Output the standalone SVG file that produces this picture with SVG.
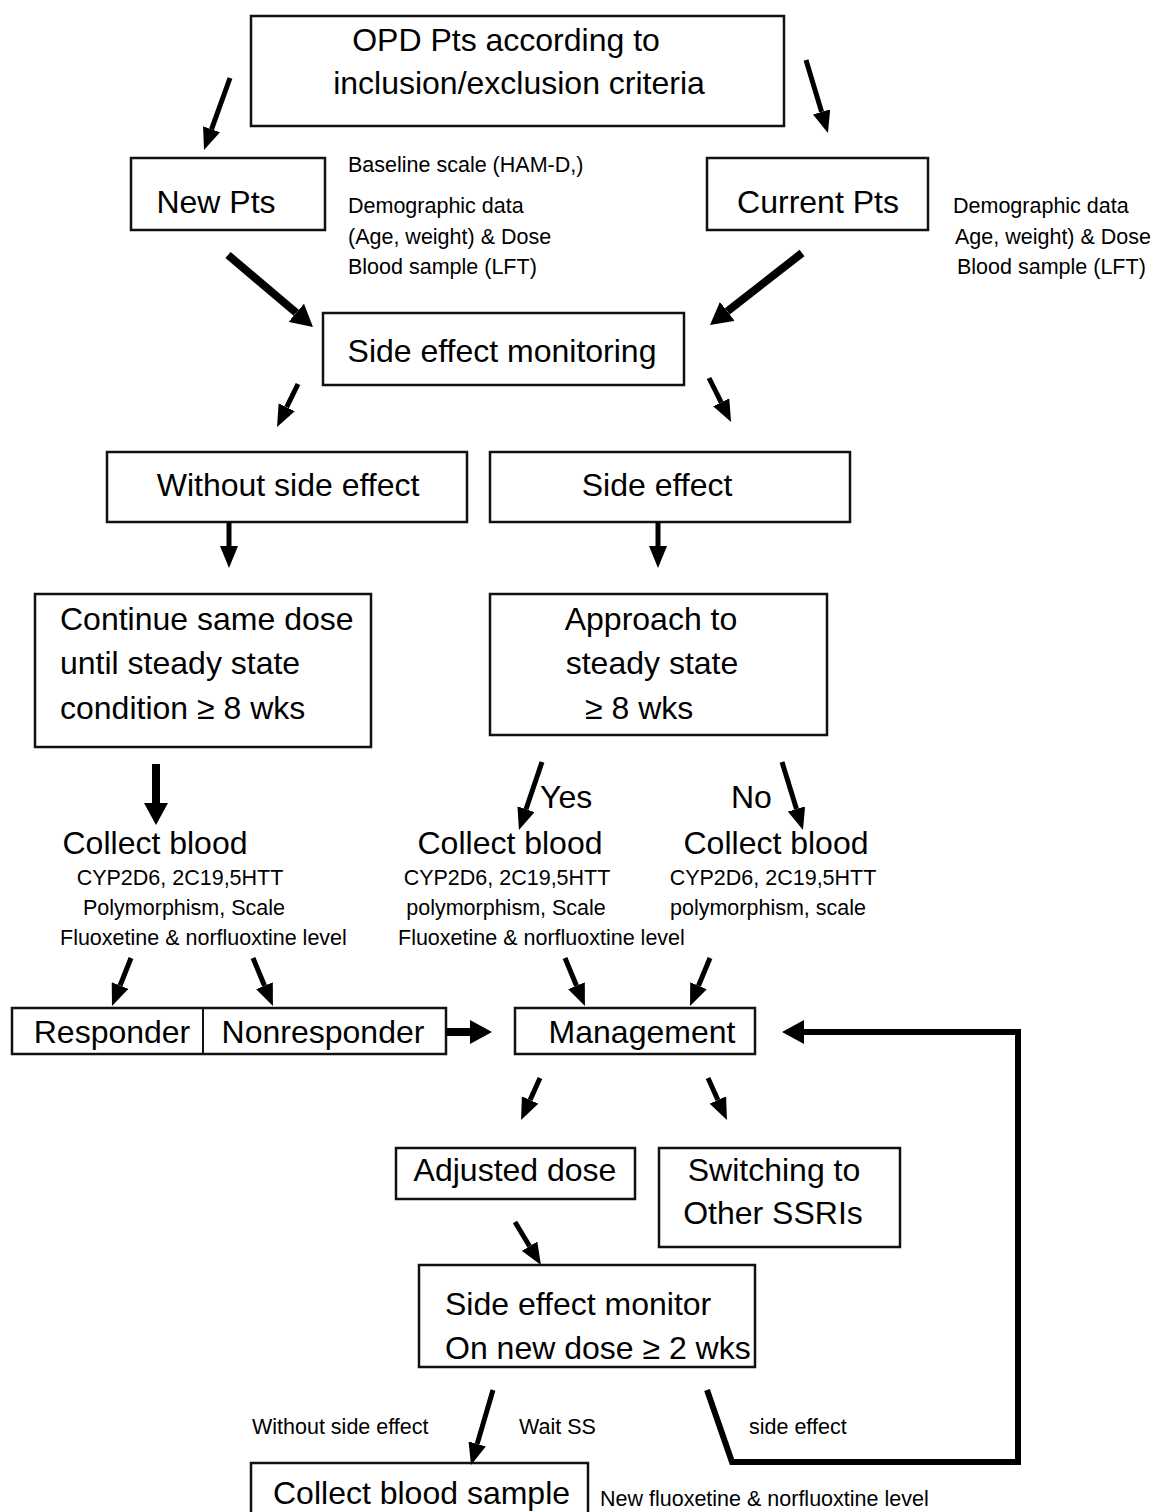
<svg xmlns="http://www.w3.org/2000/svg" width="1163" height="1512" viewBox="0 0 1163 1512">
<defs>
<style>
.box{fill:#fff;stroke:#111;stroke-width:2.5}
.t{font-family:"Liberation Sans",Arial,sans-serif;font-size:32px;fill:#000}
.s{font-family:"Liberation Sans",Arial,sans-serif;font-size:21.5px;fill:#000}
.m{text-anchor:middle}
.a{fill:none;stroke:#000;stroke-width:5;marker-end:url(#ah)}
.ab{fill:none;stroke:#000;stroke-width:8;marker-end:url(#ahb)}
</style>
<marker id="ah" viewBox="0 0 22 18" refX="0" refY="9" markerWidth="22" markerHeight="18" markerUnits="userSpaceOnUse" orient="auto"><path d="M0,0 L22,9 L0,18 z" fill="#000"/></marker>
<marker id="ahb" viewBox="0 0 22 24" refX="0" refY="12" markerWidth="22" markerHeight="24" markerUnits="userSpaceOnUse" orient="auto"><path d="M0,0 L22,12 L0,24 z" fill="#000"/></marker>
</defs>
<rect width="1163" height="1512" fill="#fff"/>

<g id="n-opd"><rect class="box" x="251" y="16" width="533" height="110"/><text class="t m" x="506" y="51">OPD Pts according to</text><text class="t m" x="519" y="94">inclusion/exclusion criteria</text></g>
<g id="n-new"><rect class="box" x="131" y="158" width="194" height="72"/><text class="t m" x="216" y="213">New Pts</text></g>
<g id="n-new-notes"><text class="s" x="348" y="172">Baseline scale (HAM-D,)</text><text class="s" x="348" y="213">Demographic data</text><text class="s" x="348" y="244">(Age, weight) &amp; Dose</text><text class="s" x="348" y="274">Blood sample (LFT)</text></g>
<g id="n-current"><rect class="box" x="707" y="158" width="221" height="72"/><text class="t m" x="818" y="213">Current Pts</text></g>
<g id="n-current-notes"><text class="s" x="953" y="213">Demographic data</text><text class="s" x="955" y="244">Age, weight) &amp; Dose</text><text class="s" x="957" y="274">Blood sample (LFT)</text></g>
<g id="n-sem"><rect class="box" x="323" y="313" width="361" height="72"/><text class="t m" x="502" y="362">Side effect monitoring</text></g>
<g id="n-wse"><rect class="box" x="107" y="452" width="360" height="70"/><text class="t m" x="288" y="496">Without side effect</text></g>
<g id="n-se"><rect class="box" x="490" y="452" width="360" height="70"/><text class="t m" x="657" y="496">Side effect</text></g>
<g id="n-continue"><rect class="box" x="35" y="594" width="336" height="153"/><text class="t" x="60" y="630">Continue same dose</text><text class="t" x="60" y="674">until steady state</text><text class="t" x="60" y="719">condition ≥ 8 wks</text></g>
<g id="n-approach"><rect class="box" x="490" y="594" width="337" height="141"/><text class="t m" x="651" y="630">Approach to</text><text class="t m" x="652" y="674">steady state</text><text class="t" x="585" y="719">≥ 8 wks</text></g>

<g id="n-cb1"><text class="t m" x="155" y="854">Collect blood</text><text class="s m" x="180" y="885">CYP2D6, 2C19,5HTT</text><text class="s m" x="184" y="915">Polymorphism, Scale</text><text class="s" x="60" y="945">Fluoxetine &amp; norfluoxtine level</text></g>
<g id="n-cb2"><text class="t m" x="510" y="854">Collect blood</text><text class="s m" x="507" y="885">CYP2D6, 2C19,5HTT</text><text class="s m" x="506" y="915">polymorphism, Scale</text><text class="s" x="398" y="945">Fluoxetine &amp; norfluoxtine level</text></g>
<g id="n-cb3"><text class="t m" x="776" y="854">Collect blood</text><text class="s m" x="773" y="885">CYP2D6, 2C19,5HTT</text><text class="s" x="670" y="915">polymorphism, scale</text></g>

<g id="n-resp"><rect class="box" x="12" y="1008" width="434" height="46"/><line x1="203" y1="1008" x2="203" y2="1054" stroke="#111" stroke-width="2"/><text class="t m" x="112" y="1043">Responder</text><text class="t m" x="323" y="1043">Nonresponder</text></g>
<g id="n-mgmt"><rect class="box" x="515" y="1008" width="240" height="46"/><text class="t m" x="642" y="1043">Management</text></g>
<g id="n-adj"><rect class="box" x="396" y="1148" width="239" height="51"/><text class="t m" x="515" y="1181">Adjusted dose</text></g>
<g id="n-switch"><rect class="box" x="659" y="1148" width="241" height="99"/><text class="t m" x="774" y="1181">Switching to</text><text class="t m" x="773" y="1224">Other SSRIs</text></g>
<g id="n-semon"><rect class="box" x="419" y="1265" width="336" height="102"/><text class="t" x="445" y="1315">Side effect monitor</text><text class="t" x="445" y="1359">On new dose ≥ 2 wks</text></g>
<g id="n-cbs"><rect class="box" x="251" y="1463" width="337" height="60"/><text class="t" x="273" y="1504">Collect blood sample</text></g>
<g id="n-cbs-note"><text class="s" x="600" y="1506">New fluoxetine &amp; norfluoxtine level</text></g>

<g id="labels"><text class="t" x="540" y="808">Yes</text><text class="t" x="731" y="808">No</text><text class="s" x="252" y="1434">Without side effect</text><text class="s" x="519" y="1434">Wait SS</text><text class="s" x="749" y="1434">side effect</text></g>

<g id="connectors">
<line class="a" x1="230" y1="78" x2="211.5" y2="129.3"/>
<line class="a" x1="806" y1="60" x2="821.6" y2="111.9"/>
<line class="ab" x1="228" y1="255" x2="296.2" y2="312.8"/>
<line class="ab" x1="802" y1="253" x2="727.3" y2="311.4"/>
<line class="a" x1="298" y1="384" x2="286.7" y2="407.2"/>
<line class="a" x1="709" y1="378" x2="721.2" y2="402.3"/>
<line class="a" x1="229" y1="522" x2="229" y2="546"/>
<line class="a" x1="658" y1="522" x2="658" y2="546"/>
<line class="ab" x1="156" y1="764" x2="156" y2="803"/>
<line class="a" x1="542" y1="762" x2="526" y2="809.2"/>
<line class="a" x1="782" y1="762" x2="796.5" y2="809"/>
<line class="a" x1="131" y1="958" x2="120.1" y2="985.5"/>
<line class="a" x1="253" y1="958" x2="264.5" y2="985.7"/>
<line class="a" x1="565" y1="958" x2="576.5" y2="985.7"/>
<line class="a" x1="710" y1="958" x2="698.5" y2="985.7"/>
<line class="ab" x1="446" y1="1032" x2="470" y2="1032"/>
<polyline fill="none" stroke="#000" stroke-width="6" marker-end="url(#ahb)" points="707,1390 732,1462 1018,1462 1018,1032 804,1032"/>
<line class="a" x1="540" y1="1078" x2="530.1" y2="1100"/>
<line class="a" x1="708" y1="1078" x2="717.9" y2="1100"/>
<line class="a" x1="515" y1="1222" x2="529.6" y2="1246.2"/>
<line class="a" x1="493" y1="1390" x2="477.2" y2="1443.9"/>
</g>
</svg>
